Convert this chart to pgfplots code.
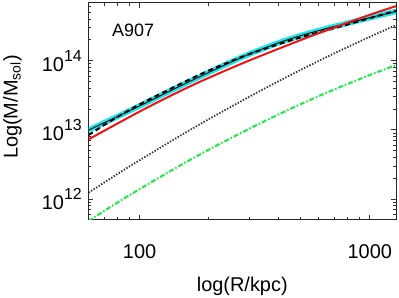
\documentclass[border=0pt]{standalone}
\usepackage{pgfplots}
\pgfplotsset{compat=1.18}
\usepackage{fontspec}
\setmainfont{Liberation Sans}
\definecolor{mycyan}{RGB}{30,228,238}
\definecolor{myred}{RGB}{238,20,20}
\definecolor{mygreen}{RGB}{25,235,70}
\newcommand{\supx}[1]{\raisebox{10bp}{\fontsize{16}{16}\selectfont #1}}
\begin{document}
\begin{tikzpicture}
\begin{axis}[
  name=ax,
  scale only axis,
  width=307.5bp, height=217bp,
  xmode=log, ymode=log,
  xmin=60, xmax=1300,
  ymin=5e11, ymax=6.8e14,
  xtick={100,1000},
  xticklabels={100,1000},
  minor xtick={70,80,90,200,300,400,500,600,700,800,900},
  ytick={1e12,1e13,1e14},
  yticklabels={10\supx{12},10\supx{13},10\supx{14}},
  minor ytick={6e11,7e11,8e11,9e11,2e12,3e12,4e12,5e12,6e12,7e12,8e12,9e12,2e13,3e13,4e13,5e13,6e13,7e13,8e13,9e13,2e14,3e14,4e14,5e14,6e14},
  tick align=inside,
  major tick length=5bp,
  minor tick length=3bp,
  every tick/.style={black!80, line width=0.8bp},
  axis line style={black!85, line width=1bp},
  xticklabel style={font=\fontsize{20}{24}\selectfont, inner sep=0pt, anchor=north, yshift=-24bp},
  yticklabel style={font=\fontsize{20}{24}\selectfont, inner sep=0pt, anchor=east, xshift=-6.5bp},
  xlabel={log(R/kpc)},
  ylabel={Log(M/M\textsubscript{sol})},
  xlabel style={font=\fontsize{20}{24}\selectfont, inner sep=0pt, at={(axis description cs:0.5,0)}, anchor=north, yshift=-57bp},
  ylabel style={font=\fontsize{20}{24}\selectfont, inner sep=0pt, at={(axis description cs:0,0.52)}, anchor=north, yshift=85.5bp},
  clip=true,
]
% cyan band
\addplot[mycyan, line width=5.5bp, smooth] coordinates {
(60,9.93e12) (80,1.552e13) (100,2.218e13) (150,4.295e13) (200,6.761e13) (250,9.550e13) (300,1.245e14) (400,1.799e14) (500,2.291e14) (650,2.917e14) (800,3.467e14) (1000,4.169e14) (1300,5.129e14)};
% thin black line inside band
\addplot[black, line width=0.9bp, smooth] coordinates {
(60,9.93e12) (80,1.552e13) (100,2.218e13) (150,4.295e13) (200,6.761e13) (250,9.550e13) (300,1.245e14) (400,1.799e14) (500,2.291e14) (650,2.917e14) (800,3.467e14) (1000,4.169e14) (1300,5.129e14)};
% dashed black
\addplot[black, line width=2bp, dash pattern=on 5bp off 3.5bp, smooth] coordinates {
(60,8.41e12) (75,1.349e13) (100,2.333e13) (150,4.592e13) (200,7.211e13) (300,1.245e14) (400,1.718e14) (500,2.163e14) (700,2.938e14) (1000,4.102e14) (1300,5.25e14)};
% red
\addplot[myred, line width=2bp, smooth] coordinates {
(60,7.29e12) (100,1.841e13) (150,3.631e13) (200,5.662e13) (300,1.007e14) (500,1.977e14) (700,2.999e14) (1000,4.592e14) (1300,6.124e14)};
% dotted black
\addplot[black!80, line width=1.8bp, dash pattern=on 1.4bp off 1.6bp, smooth] coordinates {
(60,1.239e12) (80,2.296e12) (100,3.648e12) (150,8.222e12) (200,1.432e13) (300,3.020e13) (400,5.012e13) (500,7.328e13) (700,1.271e14) (1000,2.208e14) (1300,3.258e14)};
% green dash-dot
\addplot[mygreen, line width=2bp, dash pattern=on 5bp off 2bp on 1.5bp off 2bp, smooth] coordinates {
(60,4.842e11) (80,8.892e11) (100,1.396e12) (150,3.062e12) (200,5.188e12) (300,1.042e13) (400,1.660e13) (500,2.344e13) (700,3.828e13) (1000,6.194e13) (1300,8.610e13)};
\node[anchor=base west, inner sep=0pt, font=\fontsize{18}{20}\selectfont] at (rel axis cs:0.0764,0.8433) {A907};
\end{axis}
\pgfresetboundingbox
\path[use as bounding box] ([shift={(-88.5bp,-78bp)}]ax.south west) rectangle ([shift={(3bp,3bp)}]ax.north east);
\end{tikzpicture}
\end{document}
